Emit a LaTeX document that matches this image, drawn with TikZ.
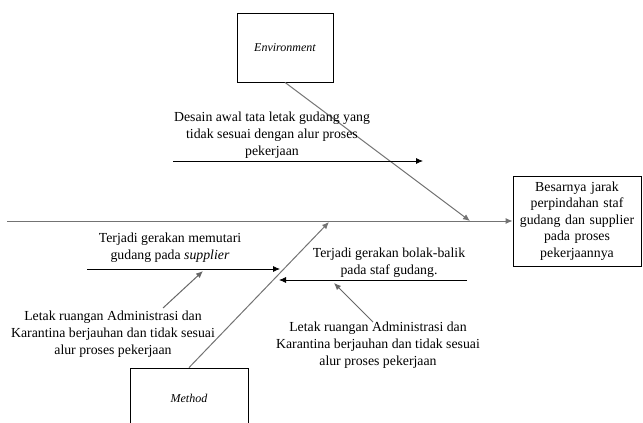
\documentclass[tikz,border=0pt]{standalone}
\usepackage{fontspec}
\setmainfont{Liberation Serif}
\usetikzlibrary{arrows.meta,positioning}

\begin{document}
\begin{tikzpicture}[
  x=1pt, y=-1pt,
  box/.style={draw, line width=0.8pt, align=center, inner sep=3pt,
              font=\fontsize{13.8}{16.6}\selectfont},
  cat/.style={draw, line width=0.8pt, font=\fontsize{12}{14}\selectfont\itshape},
  lbl/.style={align=center, inner sep=0pt, font=\fontsize{13.8}{17}\selectfont},
  spine/.style={-{Latex[length=7pt,width=6pt]}, draw=black!55, line width=1pt},
  arr/.style={-{Latex[length=7pt,width=6pt]}, line width=0.8pt},
  sub/.style={-{Latex[length=7pt,width=6pt]}, draw=black!60, line width=1pt}
]
\clip (0,0) rectangle (643,423);

% categories and effect
\node[cat, minimum width=96pt, minimum height=69pt] (env) at (285,47.5) {Environment};
\node[cat, minimum width=118pt, minimum height=60pt] (method) at (189,398) {Method};
\node[box, minimum width=128pt, minimum height=90pt, text width=122pt] (effect) at (577,221)
  {Besarnya jarak\\perpindahan staf\\gudang dan supplier\\pada proses\\pekerjaannya};

% main spine
\coordinate (tail) at (7,221);
\draw[spine] (tail) -- (effect.west);

% bones
\coordinate (envtip) at (470,221);
\coordinate (methtip) at (329,222);
\draw[spine] (env.south) -- (envtip);
\draw[spine] (method.north) -- (methtip);

% environment cause
\node[lbl] (e1) at (272,135) {Desain awal tata letak gudang yang\\tidak sesuai dengan alur proses\\pekerjaan};
\coordinate (e1a) at (173,161);
\coordinate (e1b) at (423,161);
\draw[arr] (e1a) -- (e1b);

% method causes
\node[lbl] (m1) at (170,247.5) {Terjadi gerakan memutari\\gudang pada \textit{supplier}};
\coordinate (m1a) at (87,269);
\coordinate (m1b) at (280,269);
\draw[arr] (m1a) -- (m1b);

\node[lbl] (m1s) at (113,334) {Letak ruangan Administrasi dan\\Karantina berjauhan dan tidak sesuai\\alur proses pekerjaan};
\coordinate (m1sa) at (163,308);
\coordinate (m1sb) at (203,271);
\draw[sub] (m1sa) -- (m1sb);

\node[lbl] (m2) at (389,263) {Terjadi gerakan bolak-balik\\pada staf gudang.};
\coordinate (m2a) at (467,280);
\coordinate (m2b) at (279,280);
\draw[arr] (m2a) -- (m2b);

\node[lbl] (m2s) at (378,345) {Letak ruangan Administrasi dan\\Karantina berjauhan dan tidak sesuai\\alur proses pekerjaan};
\coordinate (m2sa) at (373,322);
\coordinate (m2sb) at (334,283);
\draw[sub] (m2sa) -- (m2sb);
\end{tikzpicture}
\end{document}
